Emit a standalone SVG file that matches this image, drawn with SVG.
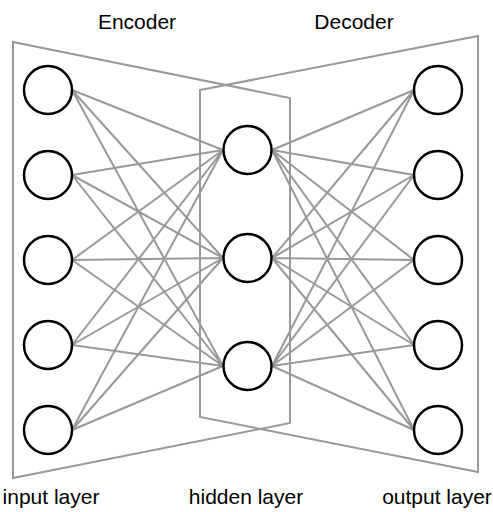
<svg xmlns="http://www.w3.org/2000/svg" width="493" height="512" viewBox="0 0 493 512">
<style>
.c{fill:#fff;stroke:#000;stroke-width:2.5}
.l{stroke:#999;stroke-width:2;fill:none}
.t{font-family:"Liberation Sans",Arial,sans-serif;font-size:21px;fill:#000;text-anchor:middle}
</style>
<rect width="493" height="512" fill="#fff"/>
<g id="frames" class="l">
<polygon points="13,42 290,98 290,423 13,478"/>
<polygon points="200,90 478,36 478,472 200,417"/>
</g>
<g id="connectors" class="l">
<path d="M72,90L223,150M72,90L223,258M72,90L223,366M72,175L223,150M72,175L223,258M72,175L223,366M72,260L223,150M72,260L223,258M72,260L223,366M72,345L223,150M72,345L223,258M72,345L223,366M72,430L223,150M72,430L223,258M72,430L223,366"/>
<path d="M272,150L414,90M272,150L414,175M272,150L414,260M272,150L414,345M272,150L414,430M272,258L414,90M272,258L414,175M272,258L414,260M272,258L414,345M272,258L414,430M272,366L414,90M272,366L414,175M272,366L414,260M272,366L414,345M272,366L414,430"/>
</g>
<g id="input">
<circle id="in1" class="c" cx="48" cy="90" r="24"/>
<circle id="in2" class="c" cx="48" cy="175" r="24"/>
<circle id="in3" class="c" cx="48" cy="260" r="24"/>
<circle id="in4" class="c" cx="48" cy="345" r="24"/>
<circle id="in5" class="c" cx="48" cy="430" r="24"/>
</g>
<g id="hidden">
<circle id="h1" class="c" cx="247.5" cy="150" r="24"/>
<circle id="h2" class="c" cx="247.5" cy="258" r="24"/>
<circle id="h3" class="c" cx="247.5" cy="366" r="24"/>
</g>
<g id="output">
<circle id="out1" class="c" cx="438" cy="90" r="24"/>
<circle id="out2" class="c" cx="438" cy="175" r="24"/>
<circle id="out3" class="c" cx="438" cy="260" r="24"/>
<circle id="out4" class="c" cx="438" cy="345" r="24"/>
<circle id="out5" class="c" cx="438" cy="430" r="24"/>
</g>
<g id="labels">
<text class="t" x="137" y="29">Encoder</text>
<text class="t" x="354" y="29">Decoder</text>
<text class="t" x="51" y="504">input layer</text>
<text class="t" x="246" y="504">hidden layer</text>
<text class="t" x="437" y="504">output layer</text>
</g>
</svg>
